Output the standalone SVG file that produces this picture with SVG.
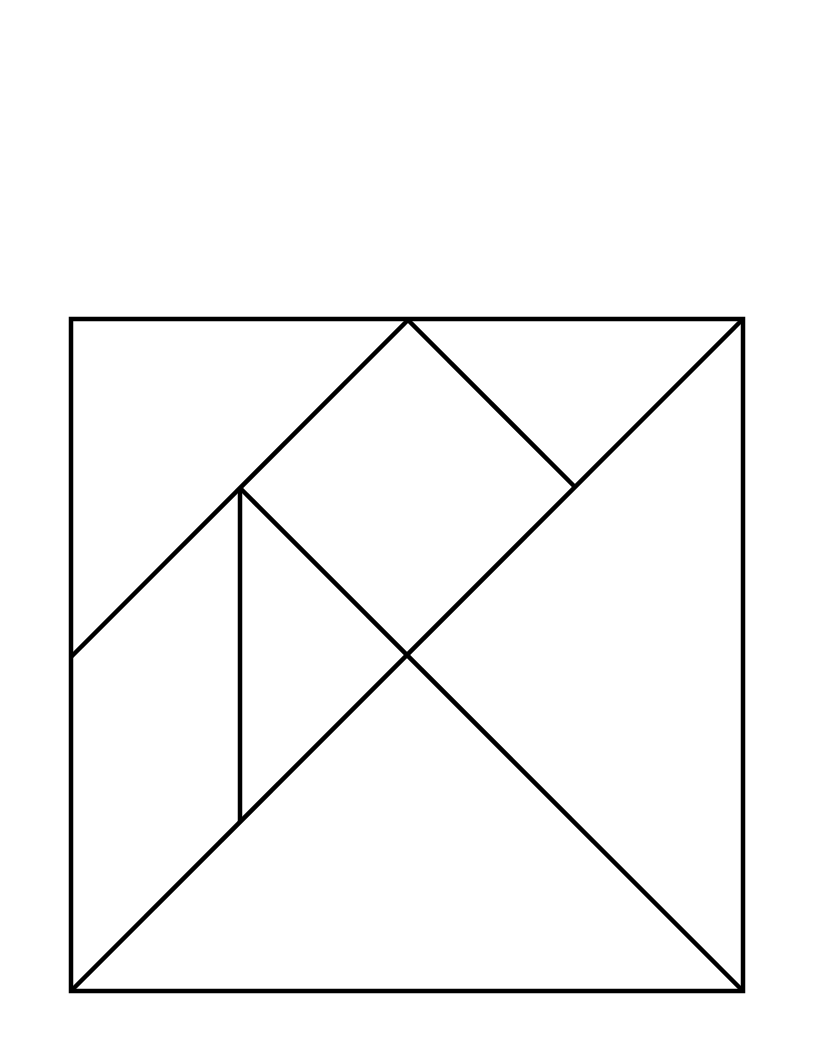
<svg xmlns="http://www.w3.org/2000/svg" width="816" height="1056" viewBox="0 0 816 1056">
<style>.e{fill:none;stroke:#000;stroke-width:4.5;stroke-linecap:butt;stroke-linejoin:miter}</style>
<rect width="816" height="1056" fill="#fff"/>
<g id="square"><rect class="e" x="71" y="319" width="672" height="672"/></g>
<g id="connectors">
<line class="e" x1="71" y1="991" x2="743" y2="319"/>
<line class="e" x1="240" y1="488" x2="743" y2="991"/>
<line class="e" x1="71" y1="657" x2="408" y2="320"/>
<line class="e" x1="408" y1="320" x2="574" y2="486"/>
<line class="e" x1="240" y1="488" x2="240" y2="822"/>
</g>
</svg>
